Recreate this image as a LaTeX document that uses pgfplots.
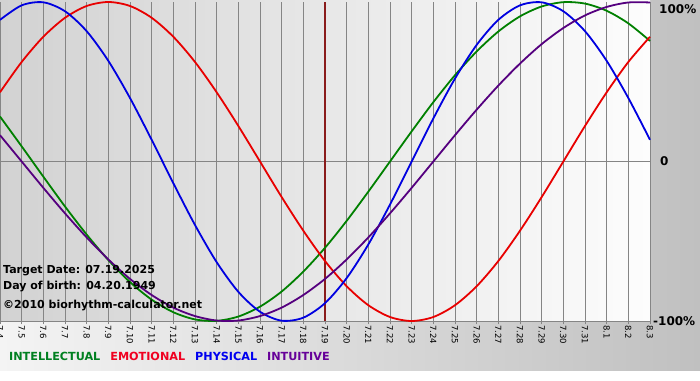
\documentclass[border=0pt]{standalone}
\usepackage{fontspec}
\setmainfont{DejaVu Sans}
\usepackage{pgfplots}
\usepackage{pgfplotstable}
\pgfplotsset{compat=1.18}
\definecolor{cint}{HTML}{008000}
\definecolor{cemo}{HTML}{E80000}
\definecolor{cphy}{HTML}{0000E0}
\definecolor{cintu}{HTML}{55007F}
\definecolor{legint}{HTML}{008020}
\definecolor{legemo}{HTML}{F00020}
\definecolor{legphy}{HTML}{0000F0}
\definecolor{legintu}{HTML}{660099}
\definecolor{gridc}{HTML}{858585}
\definecolor{target}{HTML}{8A1C1C}
\pgfplotstableread{
d phys emo intel intu
0 88.8 43.4 28.2 16.5
1 97.9 62.4 9.5 0
2 99.8 78.2 -9.5 -16.5
3 94.2 90.1 -28.2 -32.5
4 81.7 97.5 -45.8 -47.6
5 63.1 100 -61.8 -61.4
6 39.8 97.5 -75.6 -73.6
7 13.6 90.1 -86.6 -83.7
8 -13.6 78.2 -94.5 -91.6
9 -39.8 62.4 -99.0 -96.9
10 -63.1 43.4 -99.9 -99.7
11 -81.7 22.3 -97.2 -99.7
12 -94.2 0 -91.0 -96.9
13 -99.8 -22.3 -81.5 -91.6
14 -97.9 -43.4 -69.0 -83.7
15 -88.8 -62.4 -54.1 -73.6
16 -73.1 -78.2 -37.2 -61.4
17 -52.0 -90.1 -18.9 -47.6
18 -27.0 -97.5 0 -32.5
19 0 -100 18.9 -16.5
20 27.0 -97.5 37.2 0
21 52.0 -90.1 54.1 16.5
22 73.1 -78.2 69.0 32.5
23 88.8 -62.4 81.5 47.6
24 97.9 -43.4 91.0 61.4
25 99.8 -22.3 97.2 73.6
26 94.2 0 99.9 83.7
27 81.7 22.3 99.0 91.6
28 63.1 43.4 94.5 96.9
29 39.8 62.4 86.6 99.7
30 13.6 78.2 75.6 99.7
}\bio
\begin{document}
\begin{tikzpicture}[x=1pt,y=1pt]
\useasboundingbox (0,0) rectangle (700,380);
\fill[white] (0,0) rectangle (700,380);
\shade[left color={rgb,255:red,244;green,244;blue,244}, right color={rgb,255:red,192;green,192;blue,192}] (0,10) rectangle (700,380);
\shade[left color={rgb,255:red,210;green,210;blue,210}, right color={rgb,255:red,253;green,253;blue,253}] (0,59) rectangle (650,380);
\begin{axis}[
  at={(0pt,59pt)}, anchor=south west,
  width=650pt, height=319pt, scale only axis,
  xmin=0, xmax=30, ymin=-100, ymax=100,
  clip=false,
  axis line style={draw=none},
  xtick={0,...,30},
  xticklabels={7.4,7.5,7.6,7.7,7.8,7.9,7.10,7.11,7.12,7.13,7.14,7.15,7.16,7.17,7.18,7.19,7.20,7.21,7.22,7.23,7.24,7.25,7.26,7.27,7.28,7.29,7.30,7.31,8.1,8.2,8.3},
  xtick pos=bottom, tick align=outside,
  major tick length=3pt,
  xtick style={gridc, line width=1pt},
  xmajorgrids,
  grid style={gridc, line width=1pt},
  xticklabel style={rotate=-90, anchor=west, font=\fontsize{8.5}{9}\selectfont, text=black, inner sep=1pt},
  ytick={-100,0},
  yticklabels={-100\%,\hspace{7pt}0},
  yticklabel pos=right,
  ytick style={draw=none},
  yticklabel style={anchor=west, font=\bfseries\fontsize{12}{12}\selectfont, text=black, inner sep=1pt, xshift=-1pt},
  extra y ticks={100},
  extra y tick labels={\hspace{6pt}100\%},
  extra y tick style={ytick style={draw=none}, yticklabel style={yshift=-7pt}},
  legend style={at={(axis description cs:0,0)}, anchor=north west, xshift=4pt, yshift=-29pt, draw=none, fill=none, legend columns=4, font=\bfseries\fontsize{11.2}{12}\selectfont, column sep=3pt, inner sep=0pt},
  legend image code/.code={},
]
\draw[gridc, line width=1pt] (axis cs:0,0) -- (axis cs:30,0);
\draw[gridc, line width=1pt] (axis cs:0,-100) -- (axis cs:30,-100);
\addplot[target, line width=2pt, forget plot] coordinates {(15,-100) (15,100)};
\addplot[cint, line width=1.8pt, smooth] table[x=d, y=intel] {\bio};
\addlegendentry{\textcolor{legint}{INTELLECTUAL}}
\addplot[cemo, line width=1.8pt, smooth] table[x=d, y=emo] {\bio};
\addlegendentry{\textcolor{legemo}{EMOTIONAL}}
\addplot[cphy, line width=1.8pt, smooth] table[x=d, y=phys] {\bio};
\addlegendentry{\textcolor{legphy}{PHYSICAL}}
\addplot[cintu, line width=1.8pt, smooth] table[x=d, y=intu] {\bio};
\addlegendentry{\textcolor{legintu}{INTUITIVE}}
\end{axis}
\node[anchor=west, inner sep=0pt, font=\bfseries\fontsize{11}{11}\selectfont] at (3,109) {Target Date: 07.19.2025};
\node[anchor=west, inner sep=0pt, font=\bfseries\fontsize{11}{11}\selectfont] at (3,93) {Day of birth: 04.20.1949};
\node[anchor=west, inner sep=0pt, font=\bfseries\fontsize{11}{11}\selectfont] at (3,74) {©2010 biorhythm-calculator.net};
\end{tikzpicture}
\end{document}
